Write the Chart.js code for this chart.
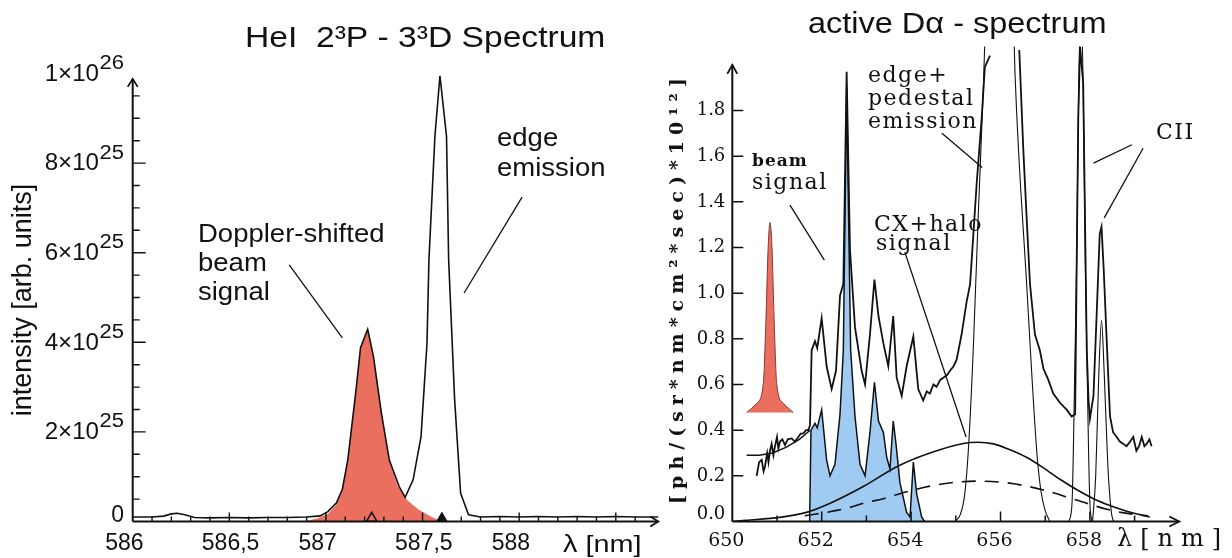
<!DOCTYPE html>
<html lang="en">
<head>
<meta charset="utf-8">
<title>HeI and active D-alpha spectra</title>
<script src="https://cdn.jsdelivr.net/npm/chart.js@4.4.1/dist/chart.umd.min.js"></script>
<style>
  html, body { margin: 0; padding: 0; background: #fff; }
  #panels { position: relative; width: 1232px; height: 558px; }
  #panels canvas { position: absolute; left: 0; top: 0; }
</style>
</head>
<body>
<div id="panels">
  <canvas id="heChart" width="1232" height="558"></canvas>
  <canvas id="daChart" width="1232" height="558"></canvas>
</div>
<script>
// ---------- HeI 2³P - 3³D : [wavelength nm, intensity in 1e25 arb. units] ----------
var heSpectrum = [
  [586.00, 0.10], [586.10, 0.10], [586.16, 0.12], [586.20, 0.17], [586.23, 0.185], [586.27, 0.15],
  [586.32, 0.09], [586.40, 0.08], [586.50, 0.09], [586.60, 0.08], [586.70, 0.09], [586.80, 0.09],
  [586.90, 0.10], [586.97, 0.125], [587.01, 0.22], [587.055, 0.42], [587.085, 0.72], [587.113, 1.37],
  [587.154, 2.87], [587.179, 3.88], [587.216, 4.29], [587.246, 3.68], [587.287, 2.42], [587.328, 1.37],
  [587.379, 0.78], [587.41, 0.54], [587.451, 0.93], [587.492, 1.89], [587.523, 3.98], [587.533, 5.84],
  [587.564, 8.60], [587.59, 9.95], [587.624, 8.60], [587.635, 5.84], [587.666, 2.72], [587.697, 0.63],
  [587.738, 0.15], [587.80, 0.10], [587.90, 0.11], [588.00, 0.10], [588.10, 0.11], [588.20, 0.10],
  [588.30, 0.11], [588.40, 0.10], [588.50, 0.11], [588.60, 0.10], [588.72, 0.10]
];
// Doppler-shifted beam component (shaded red)
var heBeam = [
  [586.88, 0.0], [586.95, 0.06], [587.01, 0.17], [587.055, 0.38], [587.085, 0.68], [587.113, 1.35],
  [587.154, 2.84], [587.179, 3.85], [587.216, 4.27], [587.246, 3.66], [587.287, 2.40], [587.328, 1.35],
  [587.37, 0.80], [587.42, 0.48], [587.48, 0.26], [587.543, 0.11], [587.584, 0.03], [587.60, 0.0]
];
// line position markers sitting on the axis
var heMarkShifted = [[587.237, 0.07]];
var heMarkRest = [[587.60, 0.07]];
var heXTicks = [586, 586.5, 587, 587.5, 588];
var heXLabels = ['586', '586,5', '587', '587,5', '588'];
var heYTicks = [0, 2, 4, 6, 8, 10];
var heYLabels = ['0', '2×10^25', '4×10^25', '6×10^25', '8×10^25', '1×10^26'];

// ---------- active D-alpha : [wavelength nm, 1e12 ph/(sr nm cm² s)] ----------
var daMeasured = [
  [650.545, 0.20], [650.60, 0.26], [650.657, 0.27], [650.70, 0.22], [650.73, 0.24], [650.78, 0.30],
  [650.81, 0.26], [650.843, 0.31], [650.88, 0.34], [650.92, 0.29], [650.955, 0.33], [651.00, 0.37],
  [651.03, 0.32], [651.067, 0.35], [651.12, 0.36], [651.18, 0.335], [651.24, 0.36], [651.328, 0.364],
  [651.40, 0.35], [651.477, 0.37], [651.53, 0.385], [651.589, 0.386], [651.65, 0.40], [651.70, 0.40],
  [651.738, 0.42], [651.775, 0.75], [651.85, 0.79], [651.90, 0.76], [651.999, 0.89], [652.11, 0.68],
  [652.223, 0.58], [652.32, 0.66], [652.41, 0.99], [652.484, 1.04], [652.558, 1.97], [652.633, 1.19],
  [652.745, 0.85], [652.894, 0.66], [652.97, 0.60], [653.08, 0.82], [653.18, 1.06], [653.27, 0.90],
  [653.38, 0.78], [653.49, 0.68], [653.60, 0.90], [653.677, 0.63], [653.79, 0.55], [653.90, 0.68],
  [654.05, 0.81], [654.16, 0.58], [654.27, 0.53], [654.35, 0.57], [654.42, 0.56], [654.50, 0.60],
  [654.57, 0.59], [654.65, 0.62], [654.72, 0.63], [654.80, 0.64], [654.87, 0.66], [654.95, 0.68],
  [655.02, 0.71], [655.13, 0.82], [655.24, 0.96], [655.32, 1.04], [655.467, 1.48], [655.58, 1.77],
  [655.65, 1.99], [655.765, 2.04], [655.90, null], [656.42, 2.065], [656.51, 1.63], [656.585, 1.33],
  [656.66, 1.04], [656.77, 0.82], [656.88, 0.75], [656.96, 0.67], [657.07, 0.62], [657.18, 0.56],
  [657.33, 0.52], [657.48, 0.49], [657.59, 0.46], [657.67, 0.47], [657.70, 1.04], [657.74, 1.77],
  [657.78, 2.08], [657.85, 1.92], [657.89, 1.33], [657.93, 0.75], [657.97, 0.53], [658.00, 0.45],
  [658.08, 0.55], [658.15, 0.90], [658.22, 1.26], [658.26, 1.29], [658.31, 1.10], [658.37, 0.82],
  [658.45, 0.46], [658.52, 0.39], [658.60, 0.37], [658.67, 0.35], [658.75, 0.34], [658.82, 0.33],
  [658.90, 0.35], [658.97, 0.37], [659.04, 0.31], [659.10, 0.33], [659.16, 0.37], [659.22, 0.33],
  [659.27, 0.34], [659.33, 0.36], [659.38, 0.33]
];
var daBackground = [[650.32, 0.29], [650.60, 0.29], [650.90, 0.30], [651.20, 0.325], [651.50, 0.36], [651.74, 0.40]];
// beam emission (shaded blue)
var daBeam = [
  [651.73, 0.0], [651.76, 0.40], [651.85, 0.43], [651.90, 0.41], [651.999, 0.49], [652.11, 0.27],
  [652.186, 0.20], [652.297, 0.25], [652.41, 0.47], [652.484, 0.75], [652.558, 1.90], [652.648, 0.75],
  [652.745, 0.46], [652.857, 0.25], [652.97, 0.20], [653.08, 0.39], [653.18, 0.61], [653.27, 0.44],
  [653.38, 0.39], [653.455, 0.28], [653.528, 0.23], [653.60, 0.44], [653.662, 0.34], [653.75, 0.17],
  [653.90, 0.04], [653.976, 0.02], [654.05, 0.26], [654.125, 0.12], [654.236, 0.02], [654.30, 0.0]
];
var daHalo = [
  [650.00, 0.0], [650.30, 0.005], [651.06, 0.018], [651.66, 0.04], [652.19, 0.08], [652.93, 0.153],
  [653.68, 0.24], [654.42, 0.30], [655.17, 0.342], [655.50, 0.347], [655.84, 0.34], [656.20, 0.315],
  [656.59, 0.28], [656.96, 0.235], [657.33, 0.185], [657.70, 0.14], [658.08, 0.10], [658.45, 0.07],
  [658.82, 0.045], [659.34, 0.02]
];
var daHaloPart = [
  [651.62, 0.025], [652.19, 0.043], [652.56, 0.058], [652.93, 0.08], [653.38, 0.10], [653.90, 0.13],
  [654.42, 0.155], [654.90, 0.17], [655.50, 0.177], [656.20, 0.168], [656.96, 0.138], [657.70, 0.094],
  [658.45, 0.05], [659.12, 0.028], [659.30, 0.025]
];
var daEdge = [
  [654.98, 0.0], [655.10, 0.03], [655.20, 0.12], [655.28, 0.31], [655.39, 0.75], [655.50, 1.33],
  [655.62, 1.92], [655.70, 2.40], [656.00, 3.20], [656.26, 2.40], [656.325, 1.96], [656.585, 1.04],
  [656.81, 0.31], [656.90, 0.14], [656.995, 0.05], [657.107, 0.0]
];
var daCII1 = [
  [657.53, 0.0], [657.60, 0.08], [657.63, 0.31], [657.70, 1.10], [657.75, 1.90], [657.80, 2.25],
  [657.85, 1.90], [657.90, 1.10], [657.97, 0.31], [658.00, 0.08], [658.05, 0.0]
];
var daCII2 = [
  [658.06, 0.0], [658.13, 0.20], [658.20, 0.65], [658.26, 0.88], [658.32, 0.65], [658.40, 0.25],
  [658.48, 0.04], [658.53, 0.0]
];
// small beam profile drawn on its own base line
var daBeamProfile = [
  [650.32, 0.477], [650.545, 0.518], [650.694, 0.605], [650.755, 0.897], [650.80, 1.19], [650.843, 1.31],
  [650.89, 1.19], [650.934, 0.897], [650.993, 0.605], [651.142, 0.518], [651.366, 0.477]
];
var daXTicks = [650, 652, 654, 656, 658];
var daXLabels = ['650', '652', '654', '656', '658'];
var daYTicks = [0, 0.2, 0.4, 0.6, 0.8, 1.0, 1.2, 1.4, 1.6, 1.8];
var daYLabels = ['0.0', '0.2', '0.4', '0.6', '0.8', '1.0', '1.2', '1.4', '1.6', '1.8'];

var INK = '#111';
var SANS = '"Liberation Sans", Arial, sans-serif';
var SERIF = '"DejaVu Serif", serif';

function pts(list) {
  return list.map(function (p) { return { x: p[0], y: p[1] }; });
}

function text(ctx, str, x, y, o) {
  ctx.save();
  ctx.translate(x, y);
  if (o.rotate) ctx.rotate(o.rotate);
  ctx.scale(o.stretch || 1, 1);
  ctx.font = o.font;
  ctx.letterSpacing = (o.spacing || 0) + 'px';
  ctx.textAlign = o.align || 'left';
  ctx.textBaseline = o.baseline || 'alphabetic';
  ctx.fillStyle = INK;
  ctx.fillText(str, 0, 0);
  ctx.restore();
}

function textWidth(ctx, str, font, stretch) {
  ctx.save();
  ctx.font = font;
  var w = ctx.measureText(str).width * (stretch || 1);
  ctx.restore();
  return w;
}

function seg(ctx, x1, y1, x2, y2) {
  ctx.moveTo(x1, y1);
  ctx.lineTo(x2, y2);
}

// leader line given in data coordinates [x1, y1, x2, y2]
function leader(ctx, xs, ys, l) {
  ctx.beginPath();
  ctx.moveTo(xs.getPixelForValue(l[0]), ys.getPixelForValue(l[1]));
  ctx.lineTo(xs.getPixelForValue(l[2]), ys.getPixelForValue(l[3]));
  ctx.stroke();
}

var heLeaders = [[586.81, 5.73, 587.085, 4.10], [588.015, 7.24, 587.715, 5.10]];
var daLeaders = [
  [651.29, 1.386, 652.06, 1.145],
  [654.69, 1.70, 655.59, 1.55],
  [653.86, 1.18, 655.23, 0.37],
  [658.94, 1.65, 658.08, 1.57],
  [659.19, 1.635, 658.32, 1.33]
];

var heFrame = {
  id: 'heFrame',
  afterDraw: function (chart) {
    var ctx = chart.ctx, xs = chart.scales.x, ys = chart.scales.y;
    var x0 = xs.getPixelForValue(586), y0 = ys.getPixelForValue(0);
    var xEnd = xs.getPixelForValue(588.72), yTop = ys.getPixelForValue(9.88);
    ctx.save();
    ctx.strokeStyle = INK;
    ctx.lineWidth = 2;
    ctx.beginPath();
    seg(ctx, x0, yTop, x0, y0);
    seg(ctx, x0, y0, xEnd, y0);
    ctx.stroke();
    ctx.lineWidth = 1.8;
    ctx.beginPath();
    ctx.moveTo(x0 - 5, yTop + 8); ctx.lineTo(x0, yTop); ctx.lineTo(x0 + 5, yTop + 8);
    ctx.moveTo(xEnd - 8, y0 - 5); ctx.lineTo(xEnd, y0); ctx.lineTo(xEnd - 8, y0 + 5);
    ctx.stroke();

    // ticks point into the plot: every 0.1 nm and every 0.5e25
    ctx.lineWidth = 1.4;
    ctx.beginPath();
    for (var i = 1; i <= 26; i++) {
      var px = xs.getPixelForValue(586 + i / 10);
      seg(ctx, px, y0, px, y0 - (i % 5 === 0 ? 9 : 5));
    }
    for (var j = 1; j <= 19; j++) {
      var py = ys.getPixelForValue(j / 2);
      seg(ctx, x0, py, x0 + (j % 4 === 0 ? 13 : 7), py);
    }
    ctx.stroke();

    heXTicks.forEach(function (v, k) {
      text(ctx, heXLabels[k], xs.getPixelForValue(v) - 27.5, 544,
        { font: '23px ' + SANS, baseline: 'middle' });
    });
    heYTicks.forEach(function (v, k) {
      var py = ys.getPixelForValue(v);
      var parts = heYLabels[k].split('^');
      if (parts.length === 1) {
        // the zero label rests on the axis line
        text(ctx, parts[0], 124, py - 6, { font: '23px ' + SANS, align: 'right', baseline: 'middle' });
        return;
      }
      var expFont = '20px ' + SANS;
      var we = textWidth(ctx, parts[1], expFont, 1.1);
      text(ctx, parts[1], 124, py - 10, { font: expFont, align: 'right', baseline: 'middle', stretch: 1.1 });
      text(ctx, parts[0], 124 - we - 0.5, py + 1, { font: '23px ' + SANS, align: 'right', baseline: 'middle', stretch: 1.05 });
    });

    text(ctx, 'λ [nm]', 563, 545, { font: '24px ' + SANS, baseline: 'middle', stretch: 1.2 });
    text(ctx, 'intensity [arb. units]', 24, 300,
      { font: '27px ' + SANS, align: 'center', baseline: 'middle', rotate: -Math.PI / 2 });
    text(ctx, 'HeI  2³P - 3³D Spectrum', 245, 47, { font: '30px ' + SANS, stretch: 1.12 });

    var note = { font: '25px ' + SANS, stretch: 1.1 };
    text(ctx, 'edge', 497, 146, note);
    text(ctx, 'emission', 497, 176, note);
    text(ctx, 'Doppler-shifted', 198, 242, note);
    text(ctx, 'beam', 198, 271, note);
    text(ctx, 'signal', 198, 300, note);

    ctx.lineWidth = 1.3;
    heLeaders.forEach(function (l) { leader(ctx, xs, ys, l); });
    ctx.restore();
  }
};

var daFrame = {
  id: 'daFrame',
  afterDraw: function (chart) {
    var ctx = chart.ctx, xs = chart.scales.x, ys = chart.scales.y;
    var x0 = xs.getPixelForValue(650), y0 = ys.getPixelForValue(0);
    var xEnd = xs.getPixelForValue(660), yTop = ys.getPixelForValue(2.0);
    ctx.save();
    ctx.strokeStyle = INK;
    ctx.lineWidth = 2;
    ctx.beginPath();
    seg(ctx, x0, yTop, x0, y0);
    seg(ctx, x0, y0, xEnd, y0);
    ctx.stroke();
    ctx.lineWidth = 1.8;
    ctx.beginPath();
    ctx.moveTo(x0 - 5, yTop + 9); ctx.lineTo(x0, yTop); ctx.lineTo(x0 + 5, yTop + 9);
    ctx.moveTo(xEnd - 10, y0 - 5); ctx.lineTo(xEnd, y0); ctx.lineTo(xEnd - 10, y0 + 5);
    ctx.stroke();

    ctx.lineWidth = 1.5;
    ctx.beginPath();
    for (var k = 651; k <= 659; k++) {
      var px = xs.getPixelForValue(k);
      seg(ctx, px, y0, px, y0 - (k % 2 === 0 ? 10 : 6));
    }
    daYTicks.forEach(function (v) {
      if (v === 0) return;
      var py = ys.getPixelForValue(v);
      seg(ctx, x0, py, x0 + 11, py);
    });
    ctx.stroke();

    daXTicks.forEach(function (v, i) {
      text(ctx, daXLabels[i], xs.getPixelForValue(v) - 6, 541,
        { font: '19px ' + SERIF, align: 'center', baseline: 'middle' });
    });
    daYTicks.forEach(function (v, i) {
      var py = ys.getPixelForValue(v) - (v === 0 ? 7 : 0);
      text(ctx, daYLabels[i], x0 - 7, py, { font: '18px ' + SERIF, align: 'right', baseline: 'middle' });
    });

    text(ctx, 'λ[nm]', 1117, 540, { font: '24px ' + SERIF, baseline: 'middle', spacing: 8 });
    text(ctx, '[ph/(sr*nm*cm²*sec)*10¹²]', 678, 288,
      { font: 'bold 19px ' + SERIF, align: 'center', baseline: 'middle', spacing: 6, rotate: -Math.PI / 2 });
    text(ctx, 'active Dα - spectrum', 808, 33, { font: '29px ' + SANS, stretch: 1.12 });

    var note = { font: '22px ' + SERIF, spacing: 1.5 };
    text(ctx, 'beam', 752, 166, { font: 'bold 17px ' + SERIF, spacing: 1 });
    text(ctx, 'signal', 752, 189, note);
    text(ctx, 'edge+', 868, 82, note);
    text(ctx, 'pedestal', 868, 105, note);
    text(ctx, 'emission', 868, 128, note);
    text(ctx, 'CX+halo', 874, 231, note);
    text(ctx, 'signal', 876, 250, note);
    text(ctx, 'CII', 1156, 139, note);

    ctx.lineWidth = 1.3;
    daLeaders.forEach(function (l) { leader(ctx, xs, ys, l); });
    ctx.restore();
  }
};

function line(data, width, extra) {
  var ds = {
    data: pts(data), borderColor: INK, borderWidth: width, pointRadius: 0,
    fill: false, tension: 0
  };
  for (var key in extra) ds[key] = extra[key];
  return ds;
}

var commonOptions = function (pad, x, y) {
  return {
    responsive: false,
    animation: false,
    events: [],
    layout: { padding: pad },
    scales: {
      x: { type: 'linear', min: x[0], max: x[1], display: false },
      y: { type: 'linear', min: y[0], max: y[1], display: false }
    },
    plugins: { legend: { display: false }, tooltip: { enabled: false } }
  };
};

new Chart(document.getElementById('heChart'), {
  type: 'line',
  data: {
    datasets: [
      line(heMarkShifted, 1.5, { showLine: false, pointRadius: 6, pointStyle: 'triangle',
        pointBorderColor: INK, pointBackgroundColor: 'rgba(0,0,0,0)', pointBorderWidth: 1.5, clip: false, order: 1 }),
      line(heMarkRest, 1.5, { showLine: false, pointRadius: 6, pointStyle: 'triangle',
        pointBorderColor: INK, pointBackgroundColor: INK, pointBorderWidth: 1, clip: false, order: 1 }),
      line(heSpectrum, 1.6, { order: 2 }),
      line(heBeam, 0, { fill: 'origin', backgroundColor: '#eb6f5f', order: 3 })
    ]
  },
  options: commonOptions({ left: 132.7, right: 1232 - 658.3, top: 73.5, bottom: 558 - 521.5 },
    [586, 588.72], [0, 10]),
  plugins: [heFrame]
});

new Chart(document.getElementById('daChart'), {
  type: 'line',
  data: {
    datasets: [
      line(daMeasured, 1.8, { order: 1 }),
      line(daBackground, 1.4, { order: 2 }),
      line(daEdge, 1.1, { cubicInterpolationMode: 'monotone', order: 3 }),
      line(daCII1, 1.1, { cubicInterpolationMode: 'monotone', order: 3 }),
      line(daCII2, 1.1, { cubicInterpolationMode: 'monotone', order: 3 }),
      line(daHalo, 1.6, { cubicInterpolationMode: 'monotone', order: 4 }),
      line(daHaloPart, 1.6, { cubicInterpolationMode: 'monotone', borderDash: [14, 9], order: 4 }),
      line(daBeamProfile, 1, { cubicInterpolationMode: 'monotone', borderColor: '#7a3a33',
        fill: { value: 0.477 }, backgroundColor: '#eb6f5f', order: 8 }),
      line(daBeam, 1.5, { fill: 'origin', backgroundColor: '#9fcbf3', order: 9 })
    ]
  },
  options: commonOptions({ left: 732.3, right: 1232 - 1179.3, top: 46.6, bottom: 558 - 521.5 },
    [650, 660], [0, 2.08]),
  plugins: [daFrame]
});
</script>
</body>
</html>
